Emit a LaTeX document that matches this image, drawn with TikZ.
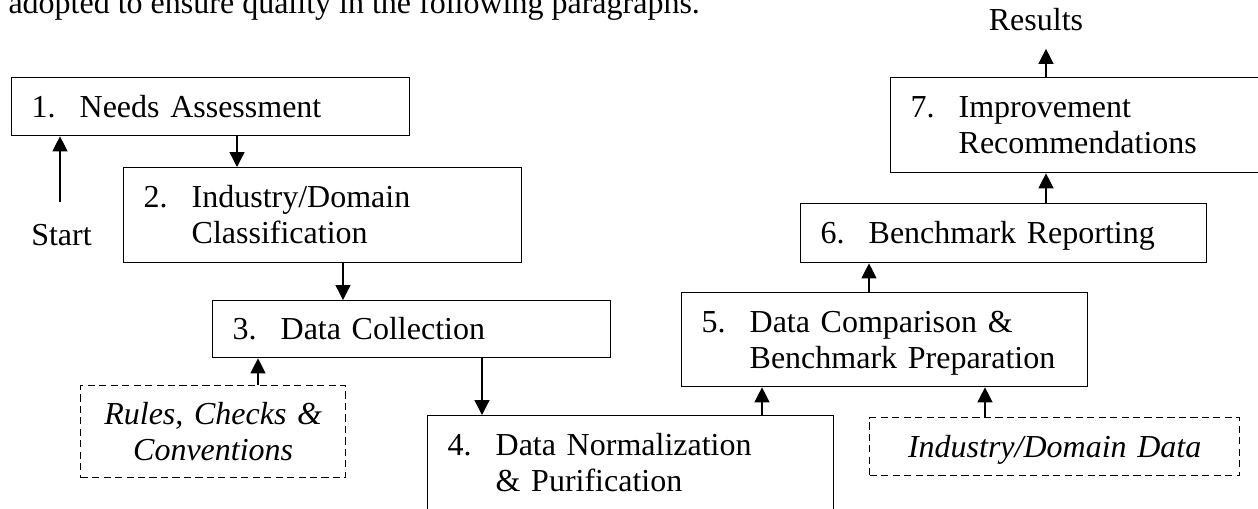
\documentclass[tikz,border=0pt]{standalone}
\usepackage{fontspec}
\setmainfont{Liberation Serif}
\usetikzlibrary{arrows.meta}
\newcommand{\boxfont}{\fontsize{12pt}{13.5pt}\selectfont}
\newcommand{\stepnum}[1]{\makebox[18pt][l]{#1}}
\newcommand{\stepindent}{\hspace*{18pt}}
\tikzset{
    stage/.style={draw, line width=0.5pt, anchor=north west, align=left, inner xsep=7.5pt, inner ysep=0pt, text height=7.9pt, text depth=0pt, font=\boxfont},
    source/.style={draw, dash pattern=on 2.7pt off 1.6pt, line width=0.5pt, anchor=north west, align=center, inner xsep=7.5pt, inner ysep=0pt, text height=7.9pt, text depth=0pt, font=\boxfont\itshape},
    flow/.style={line width=0.5pt, -{Triangle[width=5.6pt,length=5.6pt]}}
}

\begin{document}
\begin{tikzpicture}[x=0.375pt, y=-0.375pt]
                \useasboundingbox (0,0) rectangle (1258,508);
                \node[anchor=base west, inner sep=0pt, font=\boxfont] (para) at (8,13) {adopted to ensure quality in the following paragraphs.};
                \node[stage, text width=134.25pt, minimum height=21.75pt] (needs) at (11,77) {\stepnum{1.}Needs Assessment};
                \node[stage, text width=134.25pt, minimum height=35.625pt, text depth=13.5pt] (industry) at (123,167) {\stepnum{2.}Industry/Domain\\\stepindent Classification};
                \node[stage, text width=134.25pt, minimum height=21.375pt] (collect) at (212,300) {\stepnum{3.}Data Collection};
                \node[stage, text width=137.25pt, minimum height=35.625pt, text depth=13.5pt] (normal) at (427,415) {\stepnum{4.}Data Normalization\\\stepindent\& Purification};
                \node[stage, text width=137.25pt, minimum height=35.25pt, text depth=13.5pt] (compare) at (681,292) {\stepnum{5.}Data Comparison \&\\\stepindent Benchmark Preparation};
                \node[stage, text width=137.25pt, minimum height=22.125pt] (report) at (800,203) {\stepnum{6.}Benchmark Reporting};
                \node[stage, text width=137.25pt, minimum height=35.625pt, text depth=13.5pt] (improve) at (890,77) {\stepnum{7.}Improvement\\\stepindent Recommendations};
                \node[source, text width=84.375pt, minimum height=34.5pt, text depth=13.5pt] (rules) at (80,385) {Rules, Checks \&\\Conventions};
                \node[source, text width=123.75pt, minimum height=21.75pt] (domdata) at (869,417) {Industry/Domain Data};
                \node[anchor=base, inner sep=6.75pt, font=\boxfont] (results) at (1036,30) {Results};
                \node[anchor=base, inner sep=8pt, font=\boxfont] (start) at (61.5,245) {Start};
                \foreach \from/\to/\x in {start.north/needs.south/60, needs.south/industry.north/237, industry.south/collect.north/343, rules.north/collect.south/258, collect.south/normal.north/482, normal.north/compare.south/762, domdata.north/compare.south/985, compare.north/report.south/869, report.north/improve.south/1046, improve.north/results.south/1046} \draw[flow] (\from -| \x,0) -- (\to -| \x,0);
            \end{tikzpicture}
\end{document}
